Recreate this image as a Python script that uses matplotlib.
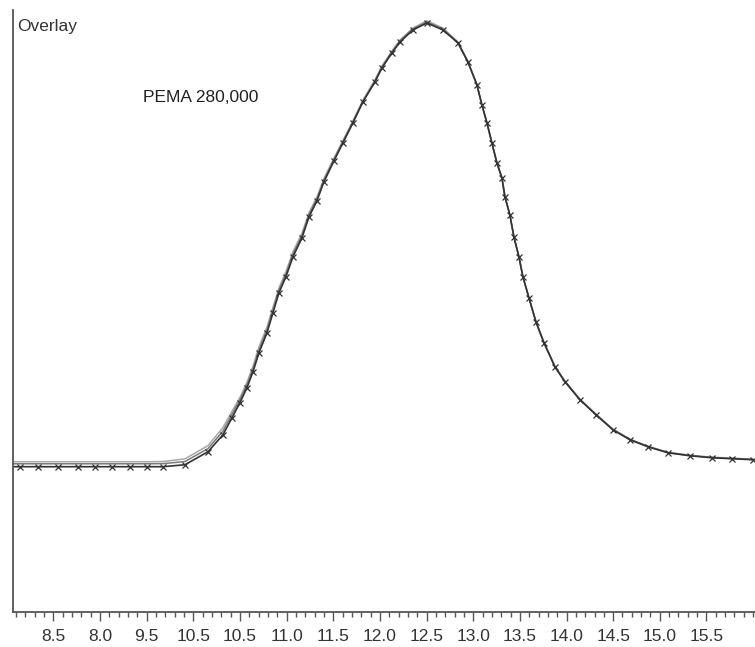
import matplotlib.pyplot as plt
from matplotlib.ticker import MultipleLocator

# retention time (min) of the sampled points along the trace
time_min = [8.057, 8.143, 8.336, 8.550, 8.765, 8.947, 9.129, 9.322, 9.504, 9.675,
            9.911, 10.158, 10.318, 10.415, 10.500, 10.575, 10.640, 10.704, 10.790, 10.854,
            10.918, 10.993, 11.068, 11.165, 11.240, 11.325, 11.400, 11.508, 11.604, 11.711,
            11.818, 11.947, 12.022, 12.129, 12.215, 12.354, 12.504, 12.675, 12.836, 12.943,
            13.040, 13.093, 13.147, 13.200, 13.254, 13.308, 13.340, 13.393, 13.436, 13.490,
            13.533, 13.597, 13.672, 13.758, 13.875, 13.983, 14.143, 14.315, 14.497, 14.679,
            14.872, 15.086, 15.322, 15.558, 15.772, 15.997]

# detector response, run marked with crosses
resp_marked = [24.09, 24.09, 24.09, 24.09, 24.09, 24.09, 24.09, 24.09, 24.09, 24.09,
               24.42, 26.58, 29.40, 32.23, 34.72, 37.21, 39.87, 43.02, 46.35, 49.67,
               52.99, 55.65, 58.97, 62.13, 65.61, 68.27, 71.43, 74.92, 77.91, 81.23,
               84.72, 88.04, 90.37, 92.86, 94.68, 96.68, 97.84, 96.68, 94.52, 91.36,
               87.54, 84.22, 81.23, 77.91, 74.58, 72.09, 68.94, 65.95, 62.29, 58.97,
               55.65, 52.16, 48.17, 44.68, 40.70, 38.21, 35.22, 32.72, 30.23, 28.57,
               27.41, 26.41, 25.91, 25.58, 25.42, 25.25]

# detector response, two overlaid runs without markers
resp_run_a = [24.92, 24.92, 24.92, 24.92, 24.92, 24.92, 24.92, 24.92, 24.92, 24.95,
              25.40, 27.60, 30.60, 33.30, 35.60, 38.10, 40.80, 44.00, 47.30, 50.60,
              53.80, 56.50, 59.80, 62.90, 66.30, 68.90, 72.00, 75.40, 78.30, 81.60,
              85.00, 88.40, 90.70, 93.20, 95.00, 97.00, 98.20, 97.00, 94.70, 91.50,
              87.60, 84.30, 81.30, 77.95, 74.60, 72.10, 68.95, 65.95, 62.30, 58.97,
              55.65, 52.20, 48.25, 44.80, 40.85, 38.35, 35.35, 32.85, 30.35, 28.70,
              27.50, 26.50, 26.00, 25.68, 25.52, 25.35]

resp_run_b = [24.58, 24.58, 24.58, 24.58, 24.58, 24.58, 24.58, 24.58, 24.58, 24.60,
              24.95, 27.10, 30.00, 32.80, 35.20, 37.70, 40.30, 43.50, 46.80, 50.10,
              53.40, 56.10, 59.40, 62.50, 66.00, 68.60, 71.70, 75.15, 78.10, 81.40,
              84.85, 88.20, 90.50, 93.00, 94.85, 96.85, 98.00, 96.85, 94.60, 91.40,
              87.55, 84.25, 81.25, 77.92, 74.58, 72.09, 68.94, 65.95, 62.29, 58.97,
              55.65, 52.18, 48.20, 44.72, 40.76, 38.27, 35.28, 32.78, 30.28, 28.62,
              27.45, 26.45, 25.95, 25.62, 25.46, 25.30]

tick_pos = [8.5, 9.0, 9.5, 10.0, 10.5, 11.0, 11.5, 12.0, 12.5, 13.0, 13.5, 14.0, 14.5, 15.0, 15.5]
tick_labels = ["8.5", "8.0", "9.5", "10.5", "10.5", "11.0", "11.5", "12.0",
               "12.5", "13.0", "13.5", "14.0", "14.5", "15.0", "15.5"]

plt.rcParams["font.family"] = ["Liberation Sans", "DejaVu Sans"]

fig = plt.figure(figsize=(7.55, 6.47), dpi=100)
ax = fig.add_axes([0.0166, 0.0546, 0.9834, 0.930])

ax.plot(time_min, resp_run_a, color="#a8a8a8", lw=1.1)
ax.plot(time_min, resp_run_b, color="#7a7a7a", lw=1.1)
ax.plot(time_min, resp_marked, color="#333333", lw=1.2,
        marker="x", ms=4, mew=0.9, mec="#333333", markevery=slice(1, None))

ax.set_xlim(8.063, 16.02)
ax.set_ylim(0, 100)

ax.set_xticks(tick_pos)
ax.set_xticklabels(tick_labels, fontsize=12.5, color="#333333")
ax.xaxis.set_minor_locator(MultipleLocator(0.1))
ax.tick_params(axis="x", which="major", direction="out", length=6.5, width=1.0,
               color="#555555", pad=6)
ax.tick_params(axis="x", which="minor", direction="out", length=3.6, width=1.0,
               color="#555555")
ax.set_yticks([])

for side in ["top", "right"]:
    ax.spines[side].set_visible(False)
for side in ["left", "bottom"]:
    ax.spines[side].set_color("#555555")
    ax.spines[side].set_linewidth(1.3)

fig.text(17 / 755, 1 - 26 / 647, "Overlay", fontsize=12.5,
         color="#333333", ha="left", va="center")
fig.text(143 / 755, 1 - 97 / 647, "PEMA 280,000", fontsize=12.5,
         color="#222222", ha="left", va="center")

fig.savefig("out.png", dpi=100)
